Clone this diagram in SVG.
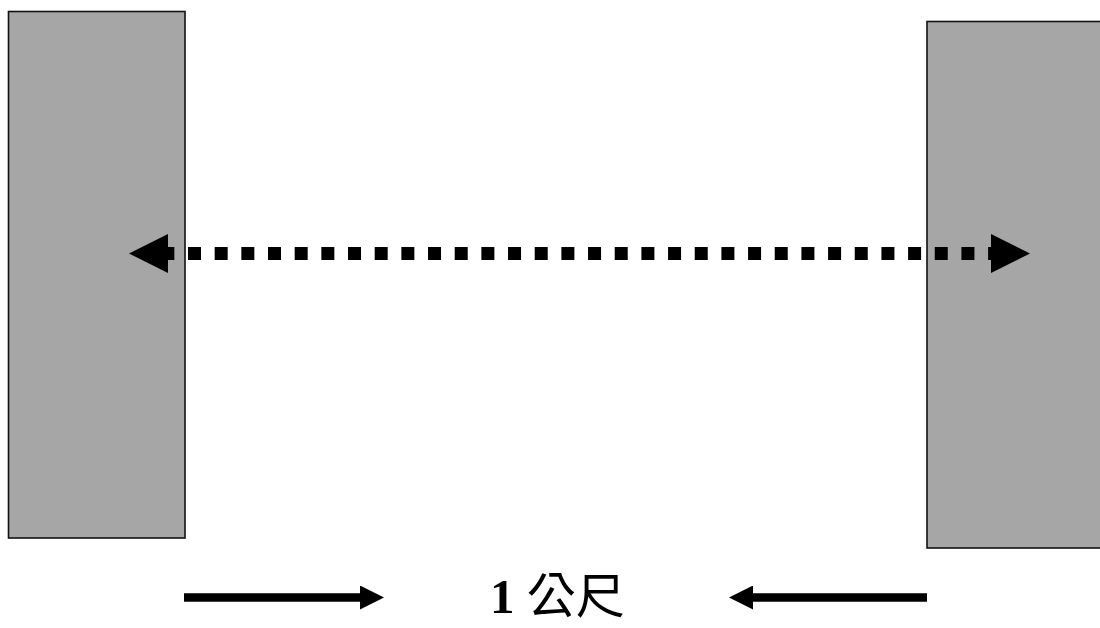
<svg xmlns="http://www.w3.org/2000/svg" width="1100" height="628" viewBox="0 0 1100 628">
<style>
.block{fill:#a6a6a6;stroke:#111;stroke-width:1.6}
.dots{stroke:#000;stroke-width:13;stroke-dasharray:13 13.67;fill:none}
.arr{stroke:#000;stroke-width:8.5;fill:none}
.head{fill:#000}
.lbl{font-family:"Liberation Serif","Noto Sans CJK TC",serif;font-size:49px;fill:#000}
</style>
<defs>
<marker id="ah" markerUnits="userSpaceOnUse" markerWidth="24" markerHeight="24" refX="0" refY="12" orient="auto">
<path d="M0,0 L24,12 L0,24 z" fill="#000"/>
</marker>
</defs>
<rect width="1100" height="628" fill="#fff"/>
<g id="wall-left"><rect class="block" x="8.5" y="11.5" width="176.5" height="526.5"/></g>
<g id="wall-right"><rect class="block" x="927" y="21.5" width="180" height="526.5"/></g>
<g id="connectors">
<line class="dots" x1="161.33" y1="253.5" x2="1000" y2="253.5"/>
<polygon class="head" points="129,253.5 168,234 168,273"/>
<polygon class="head" points="1030,253.5 991,234 991,273"/>
<line class="arr" x1="184" y1="597.5" x2="360" y2="597.5" marker-end="url(#ah)"/>
<line class="arr" x1="927" y1="597.5" x2="753" y2="597.5" marker-end="url(#ah)"/>
</g>
<g id="label"><text class="lbl" x="490" y="613"><tspan font-weight="bold">1 </tspan>公尺</text></g>
</svg>
